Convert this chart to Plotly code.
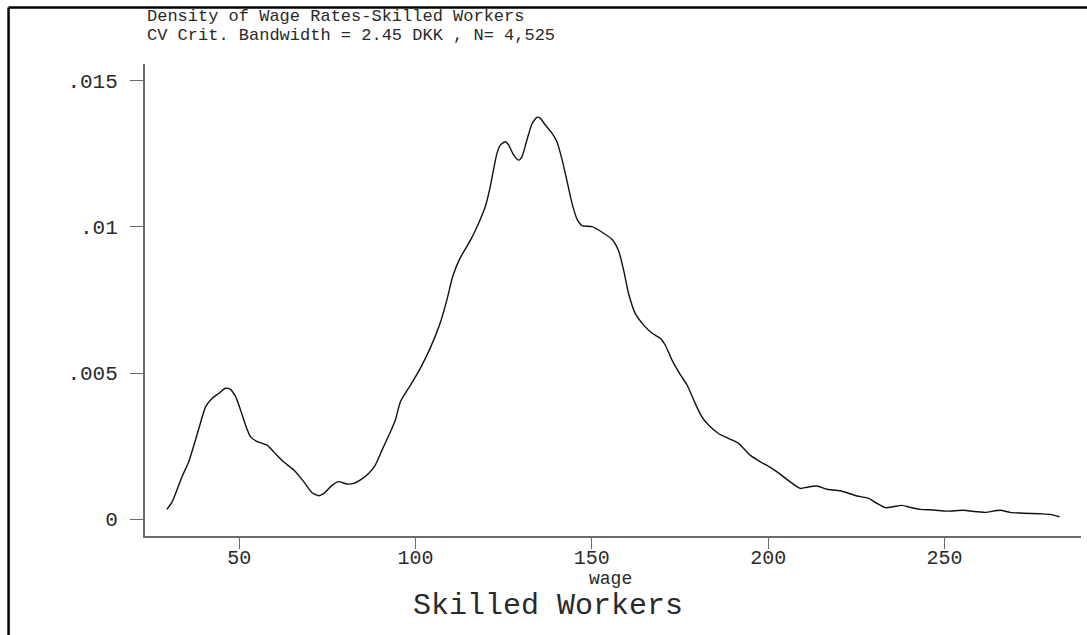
import plotly.graph_objects as go

# Kernel density estimate of hourly wage rates, skilled workers
wage = [29.5, 31.0, 33.8, 35.7, 37.6, 39.0, 40.5, 42.3, 44.2, 46.1, 47.5, 49.0,
        50.4, 51.8, 53.2, 55.1, 57.9, 59.8, 62.6, 65.5, 68.3, 70.7, 72.6, 74.0,
        76.4, 78.2, 80.6, 82.5, 84.4, 86.7, 88.6, 90.5, 92.9, 94.3, 95.7, 98.6,
        101.4, 104.2, 107.1, 109.1, 110.5, 112.5, 115.6, 117.9, 119.8, 121.2,
        122.2, 123.1, 124.1, 125.5, 126.4, 127.8, 129.3, 130.2, 131.6, 133.1,
        134.5, 135.4, 136.8, 138.7, 140.1, 141.6, 143.0, 144.4, 145.8, 147.2,
        150.1, 152.9, 155.7, 157.6, 159.0, 160.4, 162.3, 164.7, 167.1, 169.4,
        170.8, 172.7, 175.3, 177.0, 179.3, 181.2, 183.1, 185.9, 189.3, 191.6,
        194.9, 197.8, 200.6, 203.4, 205.3, 209.1, 211.0, 213.8, 216.7, 220.4,
        225.2, 228.5, 230.8, 233.2, 235.5, 237.9, 240.3, 243.1, 246.9, 250.7,
        255.4, 258.2, 261.5, 265.8, 268.6, 272.4, 277.1, 280.0, 282.6]

density = [0.00033, 0.00059, 0.00145, 0.00196, 0.00270, 0.00328, 0.00385, 0.00413,
           0.00430, 0.00448, 0.00444, 0.00419, 0.00373, 0.00322, 0.00282, 0.00265,
           0.00253, 0.00230, 0.00196, 0.00168, 0.00128, 0.00090, 0.00080, 0.00088,
           0.00116, 0.00128, 0.00120, 0.00122, 0.00134, 0.00156, 0.00185, 0.00236,
           0.00299, 0.00339, 0.00401, 0.00459, 0.00517, 0.00586, 0.00675, 0.00760,
           0.00829, 0.00890, 0.00955, 0.01013, 0.01070, 0.01138, 0.01201, 0.01252,
           0.01281, 0.01292, 0.01281, 0.01247, 0.01229, 0.01241, 0.01298, 0.01355,
           0.01376, 0.01372, 0.01349, 0.01321, 0.01292, 0.01229, 0.01155, 0.01080,
           0.01027, 0.01005, 0.01001, 0.00982, 0.00958, 0.00918, 0.00853, 0.00773,
           0.00704, 0.00664, 0.00636, 0.00619, 0.00596, 0.00545, 0.00490, 0.00459,
           0.00396, 0.00350, 0.00322, 0.00293, 0.00273, 0.00259, 0.00219, 0.00196,
           0.00177, 0.00154, 0.00136, 0.00105, 0.00109, 0.00113, 0.00102, 0.00097,
           0.00079, 0.00071, 0.00054, 0.00039, 0.00042, 0.00047, 0.00040, 0.00033,
           0.00031, 0.00027, 0.00030, 0.00026, 0.00023, 0.00030, 0.00023, 0.00020,
           0.00018, 0.00016, 0.00008]

x_ticks = [50, 100, 150, 200, 250]
y_ticks = [0, 0.005, 0.01, 0.015]
y_tick_text = ["0", ".005", ".01", ".015"]

title_line1 = "Density of Wage Rates-Skilled Workers"
title_line2 = "CV Crit. Bandwidth = 2.45 DKK , N= 4,525"
x_title = "wage"
caption = "Skilled Workers"

FONT = "Liberation Mono"
TEXT = "#2a2a2a"
AXIS_GREY = "#6a6a6a"

W, H = 1087, 635
L, R, T, B = 144.5, 6, 64, 99
pw, ph = W - L - R, H - T - B


def px_x(p):
    return (p - L) / pw


def px_y(p):
    return (H - B - p) / ph


fig = go.Figure()
fig.add_trace(go.Scatter(
    x=wage, y=density, mode="lines",
    line=dict(color="#111111", width=1.4, shape="spline", smoothing=0.6),
    hoverinfo="skip", showlegend=False,
))

fig.update_layout(
    width=W, height=H,
    margin=dict(l=L, r=R, t=T, b=B, pad=0),
    paper_bgcolor="white", plot_bgcolor="white",
    font=dict(family=FONT, color=TEXT, size=20),
    xaxis=dict(
        range=[23.3, 288.7], tickvals=x_ticks, ticks="outside", ticklen=11,
        tickwidth=1.3, tickcolor=AXIS_GREY, showline=True, linecolor=AXIS_GREY,
        linewidth=2, showgrid=False, zeroline=False, mirror=False,
        tickfont=dict(family=FONT, size=20, color=TEXT),
        ticklabelstandoff=-9, fixedrange=True,
    ),
    yaxis=dict(
        range=[-0.00058, 0.01558], tickvals=y_ticks, ticktext=y_tick_text,
        ticks="outside", ticklen=13, tickwidth=1.3, tickcolor=AXIS_GREY,
        showline=True, linecolor=AXIS_GREY, linewidth=2, showgrid=False,
        zeroline=False, tickfont=dict(family=FONT, size=21, color=TEXT),
        ticklabelstandoff=8, fixedrange=True,
    ),
    shapes=[
        # frame: top and left edges
        dict(type="line", xref="paper", yref="paper",
             x0=px_x(8), x1=px_x(1095), y0=px_y(7.5), y1=px_y(7.5),
             line=dict(color="black", width=2.5)),
        dict(type="line", xref="paper", yref="paper",
             x0=px_x(8), x1=px_x(8), y0=px_y(7.5), y1=px_y(645),
             line=dict(color="black", width=2.5)),
    ],
    annotations=[
        dict(text=title_line1, xref="paper", yref="paper", x=px_x(144), y=px_y(16.5),
             xanchor="left", yanchor="middle", showarrow=False,
             font=dict(family=FONT, size=17)),
        dict(text=title_line2, xref="paper", yref="paper", x=px_x(144), y=px_y(35.5),
             xanchor="left", yanchor="middle", showarrow=False,
             font=dict(family=FONT, size=17)),
        dict(text=x_title, xref="paper", yref="paper", x=px_x(610), y=px_y(579),
             xanchor="center", yanchor="middle", showarrow=False,
             font=dict(family=FONT, size=18)),
        dict(text=caption, xref="paper", yref="paper", x=px_x(548), y=px_y(606),
             xanchor="center", yanchor="middle", showarrow=False,
             font=dict(family=FONT, size=30)),
    ],
)

fig.write_html("out.html", config={"displayModeBar": False})
